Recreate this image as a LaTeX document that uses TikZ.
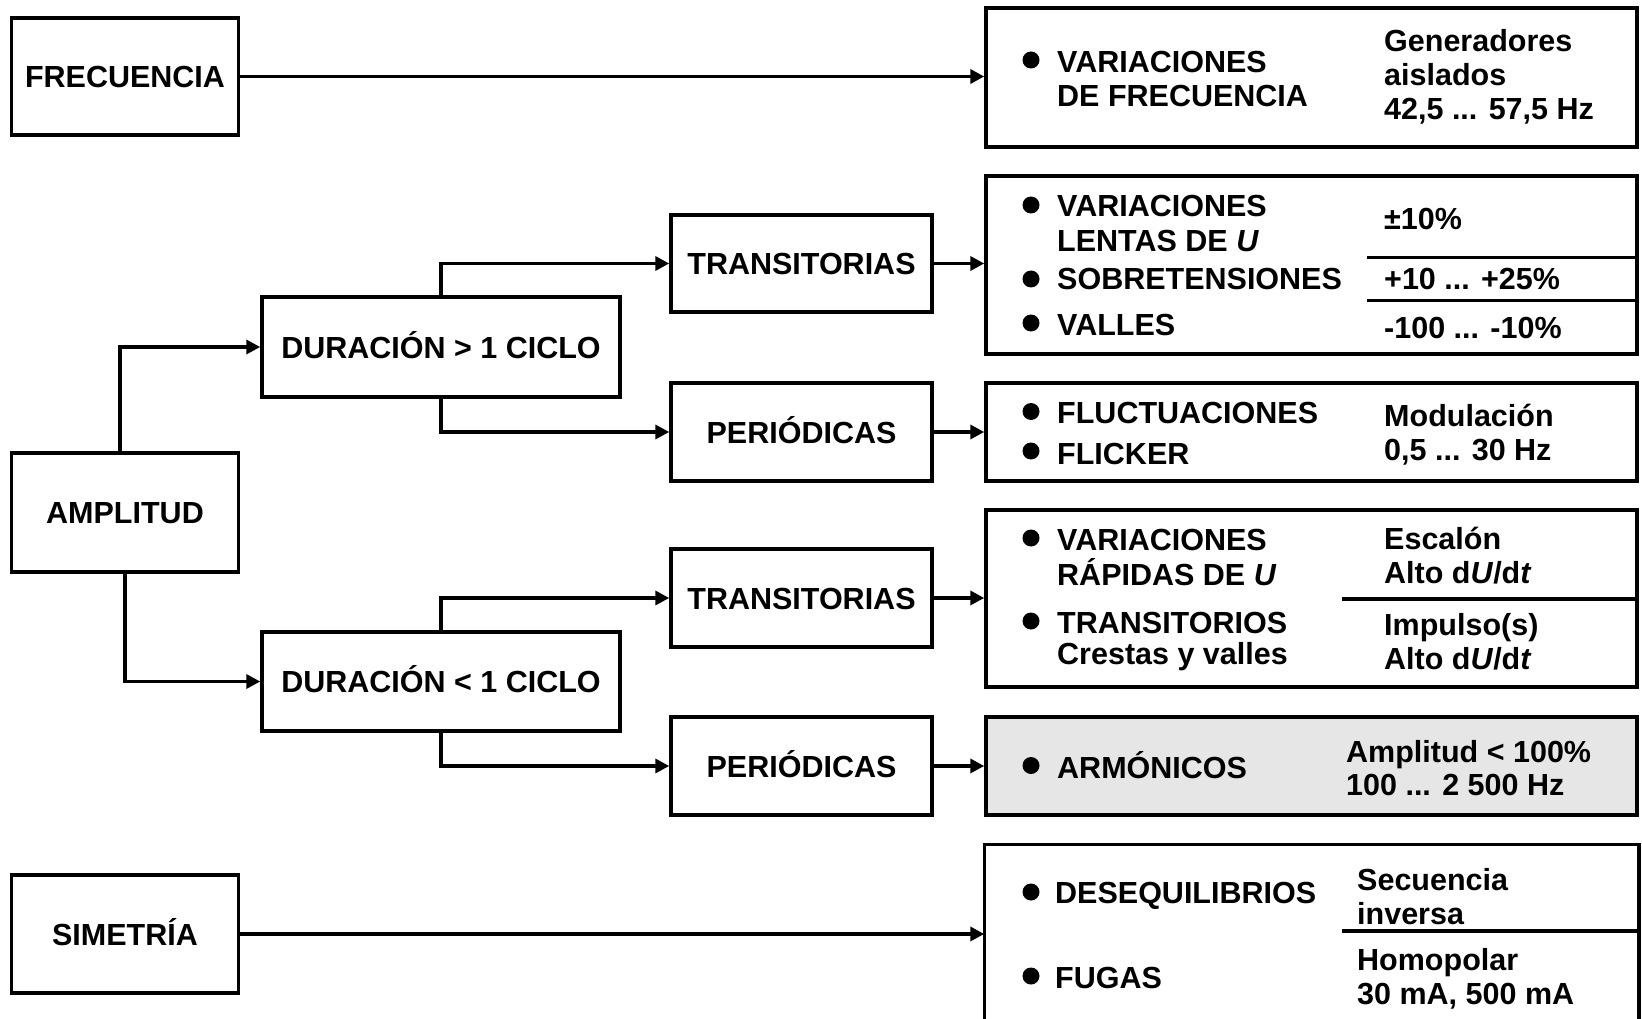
\documentclass[tikz,border=0pt]{standalone}
\usepackage{fontspec}
\setmainfont{Liberation Sans}
\usetikzlibrary{arrows.meta}
\definecolor{boxgrey}{RGB}{230,230,230}
\begin{document}
\begin{tikzpicture}[x=1pt,y=-1pt,
  every node/.style={font=\bfseries\fontsize{30.5}{34}\selectfont},
  box/.style={draw, line width=3.5pt, inner sep=0pt, text height=22pt, text depth=0pt, align=center},
  rbox/.style={draw, line width=3.5pt, inner sep=0pt, minimum width=651pt},
  arr/.style={line width=3.5pt, -{Triangle[length=14pt,width=14pt]}},
  lbl/.style={anchor=base west, inner sep=0pt},
  dot/.style={circle, fill, inner sep=0pt, minimum size=17pt},
  rule/.style={line width=3.5pt}]
\useasboundingbox (0,0) rectangle (1642,1019);
\clip (0,0) rectangle (1642,1019);
\fill[white] (0,0) rectangle (1642,1019);

% left column
\node[box, minimum width=227pt, minimum height=117pt] (frec) at (125,76.5) {FRECUENCIA};
\node[box, minimum width=227pt, minimum height=119pt] (ampl) at (125,512.5) {AMPLITUD};
\node[box, minimum width=227pt, minimum height=118pt] (sim) at (125,934) {SIMETRÍA};
% second column
\node[box, minimum width=358pt, minimum height=100pt] (durG) at (441,347) {DURACIÓN > 1 CICLO};
\node[box, minimum width=358pt, minimum height=99pt] (durL) at (441,681.5) {DURACIÓN < 1 CICLO};
% third column
\node[box, minimum width=261pt, minimum height=97pt] (tr1) at (801.5,263.5) {TRANSITORIAS};
\node[box, minimum width=261pt, minimum height=98pt] (pe1) at (801.5,432) {PERIÓDICAS};
\node[box, minimum width=261pt, minimum height=98pt] (tr2) at (801.5,598) {TRANSITORIAS};
\node[box, minimum width=261pt, minimum height=98pt] (pe2) at (801.5,766) {PERIÓDICAS};
% right column
\node[rbox, minimum height=139pt] (r1) at (1311.5,77.5) {};
\node[rbox, minimum height=178pt] (r2) at (1311.5,265) {};
\node[rbox, minimum height=98pt] (r3) at (1311.5,432) {};
\node[rbox, minimum height=177pt] (r4) at (1311.5,598.5) {};
\node[rbox, minimum height=98pt, fill=boxgrey] (r5) at (1311.5,766) {};
\node[rbox, draw=none, minimum height=200pt] (r6) at (1311.5,946) {};
\draw[rule] (r6.south west) -- (r6.north west) -- (r6.north east) -- (r6.south east);

% dividers
\draw[rule] (1367,257.5) -- (r2.east |- 0,257.5);
\draw[rule] (1367,300.5) -- (r2.east |- 0,300.5);
\draw[rule] (1342,599) -- (r4.east |- 0,599);
\draw[rule] (1342,931) -- (r6.east |- 0,931);

% connectors
\draw[arr] (frec.east) -- (frec.east -| r1.west);
\draw[arr] ([xshift=-5pt]ampl.north) |- (durG.west);
\draw[arr] (ampl.south) |- (durL.west);
\draw[arr] (durG.north) |- (tr1.west);
\draw[arr] (durG.south) |- (pe1.west);
\draw[arr] (durL.north) |- (tr2.west);
\draw[arr] (durL.south) |- (pe2.west);
\draw[arr] (tr1.east) -- (tr1.east -| r2.west);
\draw[arr] (pe1.east) -- (pe1.east -| r3.west);
\draw[arr] (tr2.east) -- (tr2.east -| r4.west);
\draw[arr] (pe2.east) -- (pe2.east -| r5.west);
\draw[arr] (sim.east) -- (sim.east -| r6.west);

% box 1
\node[dot] (b1) at (1031,60) {};
\node[lbl] (t1a) at (1057,73) {VARIACIONES};
\node[lbl] (t1b) at (1057,107) {DE FRECUENCIA};
\node[lbl] (s1a) at (1384,52) {Generadores};
\node[lbl] (s1b) at (1384,86) {aislados};
\node[lbl] (s1c) at (1384,120) {42,5 ... 57,5 Hz};

% box 2
\node[dot] (b2) at (1031,205) {};
\node[lbl] (t2a) at (1057,217) {VARIACIONES};
\node[lbl] (t2b) at (1057,252) {LENTAS DE \textit{U}};
\node[dot] (b3) at (1031,279) {};
\node[lbl] (t2c) at (1057,290) {SOBRETENSIONES};
\node[dot] (b4) at (1031,323) {};
\node[lbl] (t2d) at (1057,335) {VALLES};
\node[lbl] (s2a) at (1384,230) {±10\%};
\node[lbl] (s2b) at (1384,290) {+10 ... +25\%};
\node[lbl] (s2c) at (1384,338) {-100 ... -10\%};

% box 3
\node[dot] (b5) at (1031,411.5) {};
\node[lbl] (t3a) at (1057,423) {FLUCTUACIONES};
\node[dot] (b6) at (1031,451) {};
\node[lbl] (t3b) at (1057,464) {FLICKER};
\node[lbl] (s3a) at (1384,426) {Modulación};
\node[lbl] (s3b) at (1384,460) {0,5 ... 30 Hz};

% box 4
\node[dot] (b7) at (1031,538) {};
\node[lbl] (t4a) at (1057,550) {VARIACIONES};
\node[lbl] (t4b) at (1057,585) {RÁPIDAS DE \textit{U}};
\node[dot] (b8) at (1031,621) {};
\node[lbl] (t4c) at (1057,633) {TRANSITORIOS};
\node[lbl] (t4d) at (1057,664) {Crestas y valles};
\node[lbl] (s4a) at (1384,549) {Escalón};
\node[lbl] (s4b) at (1384,583) {Alto d\textit{U}/d\textit{t}};
\node[lbl] (s4c) at (1384,635) {Impulso(s)};
\node[lbl] (s4d) at (1384,669) {Alto d\textit{U}/d\textit{t}};

% box 5
\node[dot] (b9) at (1031,765.5) {};
\node[lbl] (t5a) at (1057,778) {ARMÓNICOS};
\node[lbl] (s5a) at (1346,762) {Amplitud < 100\%};
\node[lbl] (s5b) at (1346,795) {100 ... 2 500 Hz};

% box 6
\node[dot] (b10) at (1031,892) {};
\node[lbl] (t6a) at (1055,903) {DESEQUILIBRIOS};
\node[dot] (b11) at (1031,976) {};
\node[lbl] (t6b) at (1055,988) {FUGAS};
\node[lbl] (s6a) at (1357,890) {Secuencia};
\node[lbl] (s6b) at (1357,924) {inversa};
\node[lbl] (s6c) at (1357,970) {Homopolar};
\node[lbl] (s6d) at (1357,1004) {30 mA, 500 mA};
\end{tikzpicture}
\end{document}
